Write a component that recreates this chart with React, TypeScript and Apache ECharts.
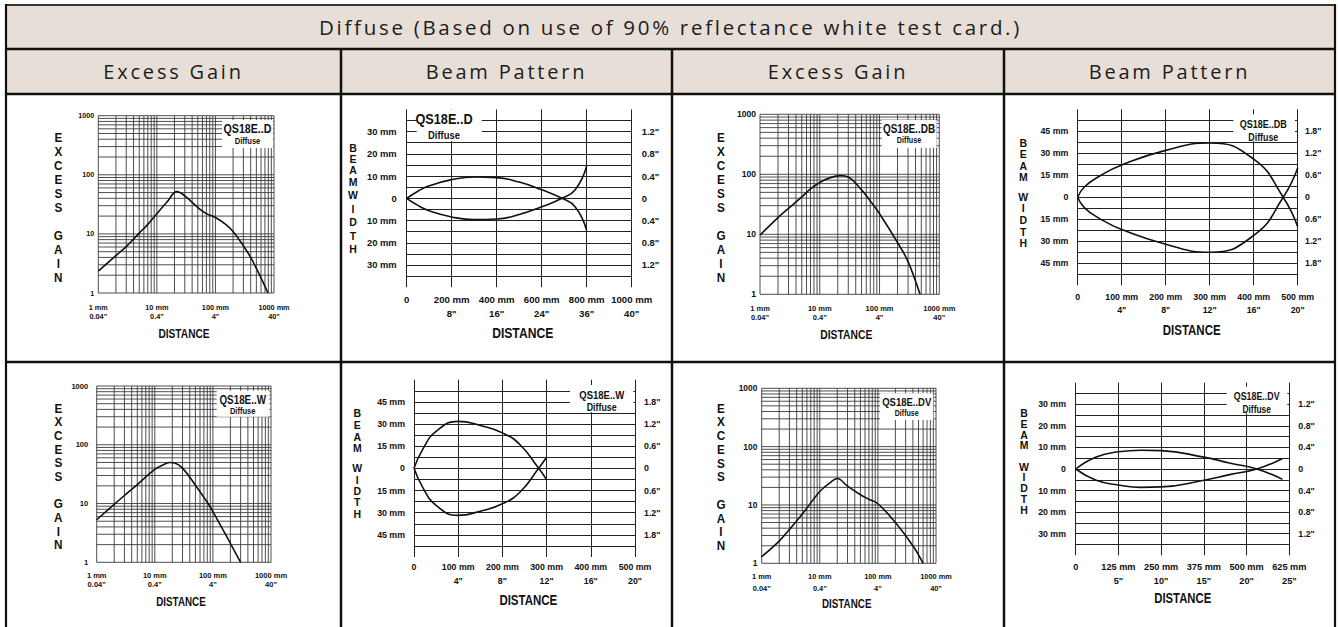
import React, { useEffect, useRef } from 'react';
import * as echarts from 'echarts';

// ---------- texts ----------
const TITLE = 'Diffuse (Based on use of 90% reflectance white test card.)';
const COLUMN_HEADERS = ['Excess Gain', 'Beam Pattern', 'Excess Gain', 'Beam Pattern'];
const AXIS_DISTANCE = 'DISTANCE';
const AXIS_GAIN = 'E\nX\nC\nE\nS\nS\n\nG\nA\nI\nN';
const AXIS_BEAM = 'B\nE\nA\nM';
const AXIS_WIDTH = 'W\nI\nD\nT\nH';
const SUBTITLE = 'Diffuse';

// ---------- excess gain (log-log) ----------
const LOG_TICKS = [1, 10, 100, 1000];
const LOG_X_MM = ['1 mm', '10 mm', '100 mm', '1000 mm'];
const LOG_X_IN = ['0.04"', '0.4"', '4"', '40"'];
const LOG_Y_LABELS = ['1', '10', '100', '1000'];
const LOG_GRID_VALUES = [1, 2, 3, 4, 5, 6, 7, 8, 9, 10, 20, 30, 40, 50, 60, 70, 80, 90, 100, 200, 300, 400, 500, 600, 700, 800, 900, 1000];

// [distance mm, excess gain]
const GAIN_D = [[1, 2.35], [2, 4.3], [3, 6.1], [5, 10.3], [7, 14.5], [10, 22], [15, 35], [22, 52], [30, 44], [50, 28], [70, 22], [100, 19], [150, 14.5], [200, 11], [300, 6.3], [400, 4], [500, 2.6], [600, 1.8], [790, 1]];
const GAIN_DB = [[1, 9.7], [2, 19], [3, 27], [5, 42], [7, 57], [10, 73], [15, 88], [22, 95], [30, 90], [50, 55], [70, 36], [100, 22], [200, 7.3], [300, 3.5], [475, 1]];
const GAIN_W = [[1, 5.3], [2, 9.7], [3, 13.7], [5, 21], [10, 38], [15, 47], [18, 50], [22, 49], [30, 40], [50, 20.5], [80, 10.5], [100, 7.3], [200, 2.1], [300, 1]];
const GAIN_DV = [[1, 1.3], [2, 2.4], [3, 3.8], [5, 7], [10, 17], [15, 24], [20, 28.5], [30, 21], [50, 15], [70, 12.5], [100, 10.5], [200, 5], [400, 2], [600, 1]];

// ---------- beam patterns ----------
// [distance mm, beam half-width mm]
const BEAM_D_UPPER = [[0, 0], [50, 3.2], [100, 5.6], [200, 8.4], [300, 9.6], [400, 9.3], [500, 7.3], [600, 3.8], [690, 0], [750, -4], [800, -14.5]];
const BEAM_D_LOWER = [[0, 0], [50, -3.2], [100, -5.6], [200, -8.4], [300, -9.6], [400, -9.3], [500, -7.3], [600, -3.8], [690, 0], [750, 4], [800, 14.5]];
const BEAM_DB_UPPER = [[0, 0], [15, 7], [50, 14.5], [100, 22], [200, 32], [300, 37], [400, 26], [467, 0], [500, -20]];
const BEAM_DB_LOWER = [[0, 0], [15, -7], [50, -14.5], [100, -22], [200, -32], [300, -37.5], [400, -26], [467, 0], [500, 20]];
const BEAM_W_UPPER = [[0, 0], [20, 13], [50, 25], [100, 31.8], [150, 29], [200, 24], [240, 16], [282, 0], [300, -7.5]];
const BEAM_W_LOWER = [[0, 0], [20, -13], [50, -25], [100, -31.8], [150, -29], [200, -24], [240, -16], [282, 0], [300, 7.5]];
const BEAM_DV_UPPER = [[0, 0], [60, 5.6], [125, 8], [190, 8.7], [250, 8.5], [375, 5.5], [450, 2.8], [530, 0], [605, -4.8]];
const BEAM_DV_LOWER = [[0, 0], [60, -5.2], [125, -7.4], [190, -8.5], [250, -8.3], [375, -5.2], [450, -2.6], [530, 0], [605, 4.9]];

const BEAM_D_X_TICKS = [0, 200, 400, 600, 800, 1000];
const BEAM_D_X_MM = ['0', '200 mm', '400 mm', '600 mm', '800 mm', '1000 mm'];
const BEAM_D_X_IN = ['', '8"', '16"', '24"', '36"', '40"'];
const BEAM_D_Y_TICKS = [30, 20, 10, 0, -10, -20, -30];
const BEAM_D_Y_MM = ['30 mm', '20 mm', '10 mm', '0', '10 mm', '20 mm', '30 mm'];
const BEAM_D_Y_IN = ['1.2"', '0.8"', '0.4"', '0', '0.4"', '0.8"', '1.2"'];

const BEAM_500_X_TICKS = [0, 100, 200, 300, 400, 500];
const BEAM_500_X_MM = ['0', '100 mm', '200 mm', '300 mm', '400 mm', '500 mm'];
const BEAM_500_X_IN = ['', '4"', '8"', '12"', '16"', '20"'];
const BEAM_45_Y_TICKS = [45, 30, 15, 0, -15, -30, -45];
const BEAM_45_Y_MM = ['45 mm', '30 mm', '15 mm', '0', '15 mm', '30 mm', '45 mm'];
const BEAM_45_Y_IN = ['1.8"', '1.2"', '0.6"', '0', '0.6"', '1.2"', '1.8"'];

const BEAM_DV_X_TICKS = [0, 125, 250, 375, 500, 625];
const BEAM_DV_X_MM = ['0', '125 mm', '250 mm', '375 mm', '500 mm', '625 mm'];
const BEAM_DV_X_IN = ['', '5"', '10"', '15"', '20"', '25"'];

// ---------- layout ----------
const FONT = '"Liberation Sans", Arial, Helvetica, sans-serif';
const HEAD_FONT = '"Open Sans", "Noto Sans", sans-serif';
const INK = '#111';
const NARROW = 0.82;

const PANELS: any[] = [
  { kind: 'log', model: 'QS18E..D', curve: GAIN_D, left: 98.3, top: 115.7, width: 175.7, height: 177.3, xSize: 7.3, xLh: 9, xMargin: 9.5, ySize: 7.2, yMargin: 4, box: [222, 120, 51, 28], t1: [247.5, 128.3, 13], t2: [247.5, 141, 9.2], dist: [184, 334, 12.4], gain: [58.3, 138, 14] },
  { kind: 'beam', model: 'QS18E..D', upper: BEAM_D_UPPER, lower: BEAM_D_LOWER, xTicks: BEAM_D_X_TICKS, xMm: BEAM_D_X_MM, xIn: BEAM_D_X_IN, yTicks: BEAM_D_Y_TICKS, yMm: BEAM_D_Y_MM, yIn: BEAM_D_Y_IN, yMax: 40, yStep: 5, left: 406.7, top: 109.4, width: 225, height: 177.8, xSize: 9.6, xLh: 14, xMargin: 4.8, ySize: 9.4, lMargin: 10, rMargin: 10, box: [416.7, 109.5, 65, 31.5], t1: [444, 118.3, 15.5], t2: [444, 134.3, 11.5], dist: [522.7, 333, 14.8], beam: [353, 148, 11.2], wid: [353, 195, 13.5] },
  { kind: 'log', model: 'QS18E..DB', curve: GAIN_DB, left: 760, top: 114.3, width: 179.3, height: 180, xSize: 7.5, xLh: 9, xMargin: 9.5, ySize: 8.6, yMargin: 4, box: [881.7, 120, 55, 27.7], t1: [909, 128.3, 12.2], t2: [909, 140, 8.8], dist: [846.3, 335, 12.6], gain: [721, 137.7, 14.06] },
  { kind: 'beam', model: 'QS18E..DB', upper: BEAM_DB_UPPER, lower: BEAM_DB_LOWER, xTicks: BEAM_500_X_TICKS, xMm: BEAM_500_X_MM, xIn: BEAM_500_X_IN, yTicks: BEAM_45_Y_TICKS, yMm: BEAM_45_Y_MM, yIn: BEAM_45_Y_IN, yMax: 60, yStep: 7.5, left: 1077.7, top: 109.3, width: 220, height: 176, xSize: 8.8, xLh: 13.3, xMargin: 4.7, ySize: 8.8, lMargin: 9.4, rMargin: 7.3, box: [1233.3, 114.3, 61.7, 27], t1: [1263.3, 124.3, 11], t2: [1263.3, 136.7, 10.8], dist: [1191.7, 330, 14], beam: [1023.3, 143.3, 11.1], wid: [1023.3, 196.7, 11.7] },
  { kind: 'log', model: 'QS18E..W', curve: GAIN_W, left: 96.7, top: 386, width: 174.3, height: 176.3, xSize: 7.5, xLh: 8.5, xMargin: 9.4, ySize: 7.6, yMargin: 8.4, box: [216.7, 390.7, 52.6, 26], t1: [242.7, 399.3, 12], t2: [242.7, 411, 9.2], dist: [181, 601.7, 12], gain: [58.3, 408.3, 13.67] },
  { kind: 'beam', model: 'QS18E..W', upper: BEAM_W_UPPER, lower: BEAM_W_LOWER, xTicks: BEAM_500_X_TICKS, xMm: BEAM_500_X_MM, xIn: BEAM_500_X_IN, yTicks: BEAM_45_Y_TICKS, yMm: BEAM_45_Y_MM, yIn: BEAM_45_Y_IN, yMax: 60, yStep: 7.5, left: 414, top: 379.7, width: 221, height: 177.3, xSize: 8.8, xLh: 14.3, xMargin: 2.5, ySize: 8.8, lMargin: 9, rMargin: 9, box: [570, 385, 63.3, 27], t1: [601.7, 394.3, 11.6], t2: [601.7, 406.7, 10.8], dist: [528.3, 600, 14], beam: [357.3, 413.3, 11.67], wid: [357.3, 468.3, 11.4] },
  { kind: 'log', model: 'QS18E..DV', curve: GAIN_DV, left: 761.7, top: 388.3, width: 174.3, height: 175, xSize: 7.4, xLh: 12, xMargin: 7.4, ySize: 8.4, yMargin: 4.4, box: [880, 393.3, 53.3, 26.7], t1: [906.7, 401.7, 11.6], t2: [906.7, 413.3, 8.6], dist: [846.7, 603.3, 12], gain: [721, 408.3, 13.77] },
  { kind: 'beam', model: 'QS18E..DV', upper: BEAM_DV_UPPER, lower: BEAM_DV_LOWER, xTicks: BEAM_DV_X_TICKS, xMm: BEAM_DV_X_MM, xIn: BEAM_DV_X_IN, yTicks: BEAM_D_Y_TICKS, yMm: BEAM_D_Y_MM, yIn: BEAM_D_Y_IN, yMax: 40, yStep: 5, left: 1075.7, top: 382.7, width: 213.6, height: 172.6, xSize: 9.2, xLh: 14, xMargin: 4.4, ySize: 8.8, lMargin: 9.7, rMargin: 9, box: [1226.7, 386.7, 60.6, 26.6], t1: [1256.7, 396, 10.8], t2: [1256.7, 409.3, 10.3], dist: [1182.7, 598.3, 13.8], beam: [1024, 413.3, 10.6], wid: [1024, 466.7, 10.8] },
];

const logIndex = (v: number) => LOG_TICKS.findIndex((t) => Math.abs(Math.log10(v) - Math.log10(t)) < 1e-6);
const tickIndex = (ticks: number[], v: number) => ticks.findIndex((t) => Math.abs(t - v) < 1e-6);

const logGridRenderer = (_params: any, api: any) => {
  const v = api.value(0);
  const a = api.coord([v, 1]);
  const b = api.coord([v, 1000]);
  const c = api.coord([1, v]);
  const d = api.coord([1000, v]);
  const style = { stroke: '#3a3a3a', lineWidth: 0.9 };
  return {
    type: 'group',
    children: [
      { type: 'line', shape: { x1: a[0], y1: a[1], x2: b[0], y2: b[1] }, style },
      { type: 'line', shape: { x1: c[0], y1: c[1], x2: d[0], y2: d[1] }, style },
    ],
  };
};

const txt = (text: string, x: number, y: number, size: number, extra: any = {}, scaleX = NARROW) => ({
  type: 'text',
  x,
  y,
  scaleX,
  z: 110,
  silent: true,
  style: {
    text,
    fill: INK,
    fontFamily: FONT,
    fontWeight: 'bold',
    fontSize: size,
    align: 'center',
    verticalAlign: 'middle',
    ...extra,
  },
});

function buildOption() {
  const grid: any[] = [];
  const xAxis: any[] = [];
  const yAxis: any[] = [];
  const series: any[] = [];
  const graphic: any[] = [];

  // table background & header
  graphic.push({ type: 'rect', z: 0, silent: true, shape: { x: 6, y: 5, width: 1329, height: 89 }, style: { fill: '#e6ded7' } });
  graphic.push({ type: 'text', x: 670.5, y: 27, z: 110, silent: true, style: { text: TITLE, fill: '#1c1c1c', fontFamily: HEAD_FONT, fontSize: 20.5, align: 'center', verticalAlign: 'middle' } });
  const colCenters = [173.5, 506.5, 838, 1169.5];
  COLUMN_HEADERS.forEach((h, i) => {
    graphic.push({ type: 'text', x: colCenters[i], y: 71.5, z: 110, silent: true, style: { text: h, fill: '#1c1c1c', fontFamily: HEAD_FONT, fontSize: 20, align: 'center', verticalAlign: 'middle' } });
  });
  const border = (x1: number, y1: number, x2: number, y2: number, w = 2.5, c = '#111') => ({
    type: 'line', z: 120, silent: true, shape: { x1, y1, x2, y2 }, style: { stroke: c, lineWidth: w },
  });
  graphic.push(border(6, 5, 1335, 5, 2, '#333'));
  graphic.push(border(6, 49, 1335, 49));
  graphic.push(border(6, 94, 1335, 94));
  graphic.push(border(6, 362, 1335, 362));
  graphic.push(border(6, 4, 6, 627, 2.2));
  graphic.push(border(1335, 4, 1335, 627, 2.2));
  [341, 672, 1004].forEach((x) => graphic.push(border(x, 49, x, 627)));

  PANELS.forEach((p) => {
    const gi = grid.length;
    grid.push({ left: p.left, top: p.top, width: p.width, height: p.height, containLabel: false, outerBoundsMode: 'none' });
    const labelBase = { color: INK, fontFamily: FONT, fontWeight: 'bold' };
    if (p.kind === 'log') {
      xAxis.push({
        type: 'log', logBase: 10, gridIndex: gi, min: 1, max: 1000,
        axisLine: { show: false }, axisTick: { show: false }, splitLine: { show: false }, minorTick: { show: false },
        axisLabel: {
          ...labelBase, fontSize: p.xSize, lineHeight: p.xLh, margin: p.xMargin, showMinLabel: true, showMaxLabel: true,
          formatter: (v: number) => { const i = logIndex(v); return i < 0 ? '' : `${LOG_X_MM[i]}\n${LOG_X_IN[i]}`; },
        },
      });
      const yi = yAxis.length;
      yAxis.push({
        type: 'log', logBase: 10, gridIndex: gi, min: 1, max: 1000,
        axisLine: { show: false }, axisTick: { show: false }, splitLine: { show: false },
        axisLabel: {
          ...labelBase, fontSize: p.ySize, margin: p.yMargin, showMinLabel: true, showMaxLabel: true,
          formatter: (v: number) => { const i = logIndex(v); return i < 0 ? '' : LOG_Y_LABELS[i]; },
        },
      });
      series.push({
        type: 'custom', xAxisIndex: gi, yAxisIndex: yi, silent: true, z: 1,
        data: LOG_GRID_VALUES.map((v) => [v, v]), renderItem: logGridRenderer,
      });
      series.push({
        type: 'line', xAxisIndex: gi, yAxisIndex: yi, data: p.curve, smooth: 0.4, symbol: 'none', showSymbol: false,
        silent: true, z: 3, lineStyle: { color: INK, width: 1.6 },
      });
    } else {
      const xMax = p.xTicks[p.xTicks.length - 1];
      const xStep = p.xTicks[1] - p.xTicks[0];
      xAxis.push({
        type: 'value', gridIndex: gi, min: 0, max: xMax, interval: xStep,
        axisLine: { show: false }, axisTick: { show: false },
        splitLine: { show: true, lineStyle: { color: '#222', width: 1 } },
        axisLabel: {
          ...labelBase, fontSize: p.xSize, lineHeight: p.xLh, margin: p.xMargin, showMinLabel: true, showMaxLabel: true,
          formatter: (v: number) => {
            const i = tickIndex(p.xTicks, v);
            if (i < 0) return '';
            return p.xIn[i] ? `${p.xMm[i]}\n${p.xIn[i]}` : p.xMm[i];
          },
        },
      });
      const yi = yAxis.length;
      yAxis.push({
        type: 'value', gridIndex: gi, position: 'left', min: -p.yMax, max: p.yMax, interval: p.yStep,
        axisLine: { show: false }, axisTick: { show: false },
        splitLine: { show: true, showMinLine: false, showMaxLine: false, lineStyle: { color: '#222', width: 1 } },
        axisLabel: {
          ...labelBase, fontSize: p.ySize, margin: p.lMargin,
          formatter: (v: number) => { const i = tickIndex(p.yTicks, v); return i < 0 ? '' : p.yMm[i]; },
        },
      });
      yAxis.push({
        type: 'value', gridIndex: gi, position: 'right', min: -p.yMax, max: p.yMax, interval: p.yStep,
        axisLine: { show: false }, axisTick: { show: false }, splitLine: { show: false },
        axisLabel: {
          ...labelBase, fontSize: p.ySize, margin: p.rMargin,
          formatter: (v: number) => { const i = tickIndex(p.yTicks, v); return i < 0 ? '' : p.yIn[i]; },
        },
      });
      [p.upper, p.lower].forEach((curve: number[][]) => {
        series.push({
          type: 'line', xAxisIndex: gi, yAxisIndex: yi, data: curve, smooth: 0.5,
          symbol: 'none', showSymbol: false, silent: true, z: 3, lineStyle: { color: INK, width: 1.6 },
        });
      });
    }

    // model legend box
    graphic.push({ type: 'rect', z: 100, silent: true, shape: { x: p.box[0], y: p.box[1], width: p.box[2], height: p.box[3] }, style: { fill: '#fff' } });
    graphic.push(txt(p.model, p.t1[0], p.t1[1], p.t1[2]));
    graphic.push(txt(SUBTITLE, p.t2[0], p.t2[1], p.t2[2]));
    // axis titles
    graphic.push(txt(AXIS_DISTANCE, p.dist[0], p.dist[1], p.dist[2]));
    if (p.kind === 'log') {
      graphic.push(txt(AXIS_GAIN, p.gain[0], p.gain[1] - p.gain[2] / 2, 13, { verticalAlign: 'top', lineHeight: p.gain[2] }, 0.9));
    } else {
      graphic.push(txt(AXIS_BEAM, p.beam[0], p.beam[1] - p.beam[2] / 2, 10.5, { verticalAlign: 'top', lineHeight: p.beam[2] }, 1));
      graphic.push(txt(AXIS_WIDTH, p.wid[0], p.wid[1] - p.wid[2] / 2, 10.5, { verticalAlign: 'top', lineHeight: p.wid[2] }, 1));
    }
  });

  return { animation: false, backgroundColor: '#fff', grid, xAxis, yAxis, series, graphic };
}

export default function App() {
  const ref = useRef<HTMLDivElement>(null);
  useEffect(() => {
    const el = ref.current as HTMLDivElement;
    const chart = echarts.init(el, null, { renderer: 'svg', width: 1338, height: 627 });
    chart.setOption(buildOption() as any);
    const patch = () => {
      el.querySelectorAll('text').forEach((t) => {
        const s = t.textContent || '';
        if (s === TITLE) t.setAttribute('letter-spacing', '2.7');
        else if (COLUMN_HEADERS.indexOf(s) >= 0) t.setAttribute('letter-spacing', '2.8');
      });
    };
    patch();
    chart.on('finished', patch);
    const raf = requestAnimationFrame(patch);
    return () => {
      cancelAnimationFrame(raf);
      chart.dispose();
    };
  }, []);
  return <div ref={ref} style={{ position: 'fixed', left: 0, top: 0, width: 1338, height: 627, background: '#fff' }} />;
}
